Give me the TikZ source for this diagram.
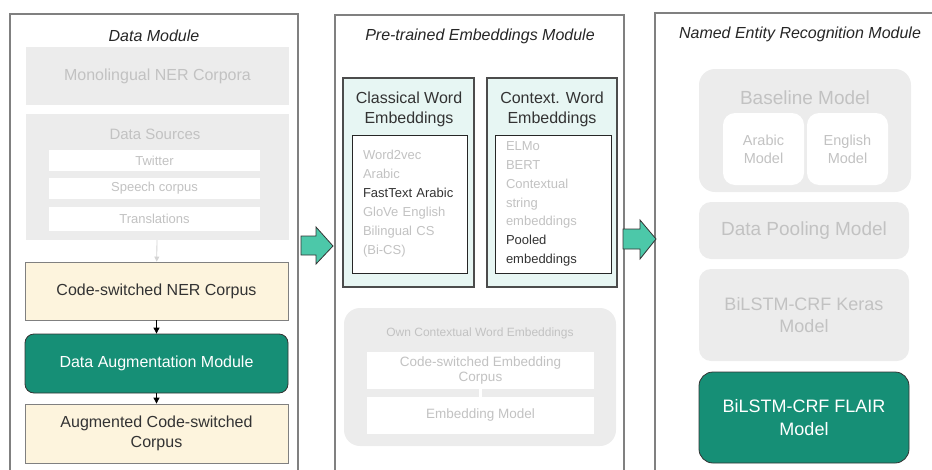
\documentclass[tikz,border=0pt]{standalone}
\usepackage{fontspec}
\setmainfont{Liberation Sans}
\usetikzlibrary{arrows.meta}
\definecolor{greyfill}{HTML}{ECECEC}
\definecolor{greytext}{HTML}{C2C2C2}
\definecolor{darkteal}{HTML}{168F76}
\definecolor{lightteal}{HTML}{4CC8A9}
\definecolor{cream}{HTML}{FDF4DD}
\definecolor{mint}{HTML}{E7F6F3}
\definecolor{frame}{HTML}{808080}
\definecolor{ink}{HTML}{333333}
\begin{document}
\begin{tikzpicture}[x=1pt,y=-1pt,
    every node/.style={inner sep=0pt,align=center},
    panel/.style={draw=frame,line width=1.2pt},
    title/.style={font=\fontsize{16}{19}\selectfont\itshape,text=black!85},
    greybox/.style={fill=greyfill,text=greytext},
    whitebox/.style={fill=white,text=greytext},
    creambox/.style={draw=frame,fill=cream,text=ink,line width=0.8pt,
        font=\fontsize{16}{20}\selectfont},
    tealbox/.style={draw=ink,fill=darkteal,text=white,rounded corners=9pt,line width=0.8pt},
    mintbox/.style={draw=black!70,fill=mint,line width=1.2pt},
    listbox/.style={draw=black!85,fill=white,line width=1pt,align=left,
        font=\fontsize{13}{19}\selectfont},
    blockarrow/.style={draw=black!80,fill=lightteal,line width=0.8pt,line join=miter},
    flow/.style={-{Triangle[length=6pt,width=6pt]},line width=0.8pt}]
    \useasboundingbox (0,0) rectangle (932,469);
    \draw[panel] (10,475) |- (298,14) -- (298,475);
    \draw[panel] (335,475) |- (624,15) -- (624,475);
    \draw[panel] (655,475) |- (935,13);
    \node[title] (dmt) at (154,36) {Data Module};
    \node[greybox,minimum width=263pt,minimum height=58pt,font=\fontsize{16}{19}\selectfont] (mono) at (157.5,76) {Monolingual NER Corpora};
    \node[greybox,minimum width=263pt,minimum height=126pt] (src) at (157.5,177) {};
    \node[text=greytext,font=\fontsize{15}{18}\selectfont] (srct) at (155,134.5) {Data Sources};
    \node[whitebox,minimum width=211pt,minimum height=21pt,font=\fontsize{13}{16}\selectfont] (tw) at (154.5,160.5) {Twitter};
    \node[whitebox,minimum width=211pt,minimum height=21pt,font=\fontsize{13}{16}\selectfont] (sp) at (154.5,188.5) {Speech corpus};
    \node[whitebox,minimum width=211pt,minimum height=24pt,font=\fontsize{13}{16}\selectfont] (tr) at (154.5,219) {Translations};
    \node[creambox,minimum width=263pt,minimum height=58pt] (ncs) at (156.5,291) {Code-switched NER Corpus};
    \node[tealbox,minimum width=263pt,minimum height=59pt,font=\fontsize{16}{20}\selectfont] (aug) at (156.5,363.5) {Data Augmentation Module};
    \node[creambox,minimum width=263pt,minimum height=59pt] (acs) at (156.5,433.5) {Augmented Code-switched\\Corpus};
    \draw[flow,draw=greytext!70,-{Triangle[length=5pt,width=5pt]}] (src) -- (ncs);
    \draw[flow] (ncs) -- (aug);
    \draw[flow] (aug) -- (acs);
    \node[title] (pet) at (480,36) {Pre-trained Embeddings Module};
    \node[mintbox,minimum width=131pt,minimum height=209pt] (cw) at (408.5,182.5) {};
    \node[text=ink,font=\fontsize{16}{20}\selectfont] (cwt) at (409,109.5) {Classical Word\\Embeddings};
    \node[listbox,text width=93pt,minimum height=138pt,inner xsep=11pt] (cwl) at (409.5,204) {%
        \textcolor{greytext}{Word2vec}\\\textcolor{greytext}{Arabic}\\\textcolor{ink}{FastText Arabic}\\%
        \textcolor{greytext}{GloVe English}\\\textcolor{greytext}{Bilingual CS}\\\textcolor{greytext}{(Bi-CS)}};
    \node[mintbox,minimum width=130pt,minimum height=209pt] (cx) at (552,182.5) {};
    \node[text=ink,font=\fontsize{16}{20}\selectfont] (cxt) at (552,109.5) {Context. Word\\Embeddings};
    \node[listbox,text width=94pt,minimum height=138pt,inner xsep=11pt,font=\fontsize{13}{18.8}\selectfont] (cxl) at (553,204) {%
        \textcolor{greytext}{ELMo}\\\textcolor{greytext}{BERT}\\\textcolor{greytext}{Contextual}\\%
        \textcolor{greytext}{string}\\\textcolor{greytext}{embeddings}\\\textcolor{ink}{Pooled}\\\textcolor{ink}{embeddings}};
    \node[greybox,rounded corners=16pt,minimum width=272pt,minimum height=138pt] (own) at (480,377) {};
    \node[text=greytext,font=\fontsize{12}{14}\selectfont] (ownt) at (480,333) {Own Contextual Word Embeddings};
    \node[whitebox,minimum width=227pt,minimum height=37pt,font=\fontsize{13.5}{15.5}\selectfont] (ecorp) at (480.5,370.5) {Code-switched Embedding\\Corpus};
    \node[whitebox,minimum width=227pt,minimum height=37pt,font=\fontsize{13.5}{16}\selectfont] (emod) at (480.5,415.5) {Embedding Model};
    \draw[white,line width=3pt,line cap=round] (ecorp) -- (emod);
    \node[title] (nert) at (800,34) {Named Entity Recognition Module};
    \node[greybox,rounded corners=16pt,minimum width=212pt,minimum height=123pt] (base) at (805,130.5) {};
    \node[text=greytext,font=\fontsize{19}{22}\selectfont] (baset) at (805,98) {Baseline Model};
    \node[whitebox,rounded corners=12pt,minimum width=81pt,minimum height=72pt,font=\fontsize{14.5}{18}\selectfont] (ar) at (763.5,149) {Arabic\\Model};
    \node[whitebox,rounded corners=12pt,minimum width=81pt,minimum height=72pt,font=\fontsize{14.5}{18}\selectfont] (en) at (847.5,149) {English\\Model};
    \node[greybox,rounded corners=12pt,minimum width=210pt,minimum height=57pt,font=\fontsize{19}{22}\selectfont] (pool) at (804,230.5) {Data Pooling Model};
    \node[greybox,rounded corners=12pt,minimum width=210pt,minimum height=92pt,font=\fontsize{18}{22}\selectfont] (keras) at (804,315) {BiLSTM-CRF Keras\\Model};
    \node[tealbox,rounded corners=14pt,minimum width=210pt,minimum height=91pt,font=\fontsize{18}{23}\selectfont] (flair) at (804,417.5) {BiLSTM-CRF FLAIR\\Model};
    \draw[blockarrow] (301,236) -- (316,236) -- (316,227) -- (333,246) -- (316,264) -- (316,255) -- (301,255) -- cycle;
    \draw[blockarrow] (623,229) -- (640,229) -- (640,220) -- (656,239) -- (640,259) -- (640,249) -- (623,249) -- cycle;
\end{tikzpicture}
\end{document}
